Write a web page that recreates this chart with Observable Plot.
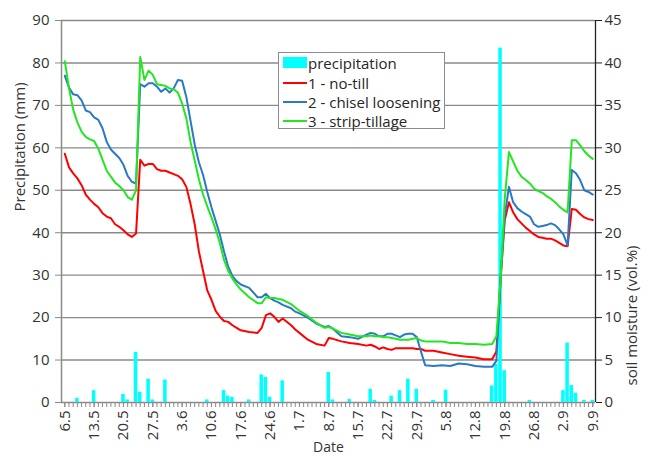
<!DOCTYPE html>
<html><head><meta charset="utf-8">
<script src="https://cdn.jsdelivr.net/npm/d3@7"></script>
<script src="https://cdn.jsdelivr.net/npm/@observablehq/plot@0.6"></script>
<style>
body{margin:0;background:#fff;}
#wrap{position:relative;width:650px;height:456px;font-family:"Open Sans",sans-serif;overflow:hidden;}
#legend{position:absolute;left:278px;top:52px;width:167px;height:77px;border:1px solid #8c8c8c;background:#fff;box-sizing:border-box;font-size:15px;color:#262626;}
.row{position:absolute;left:4px;height:20px;line-height:20px;white-space:nowrap;}
.sw{position:absolute;left:0;width:24px;}
.lab{position:absolute;left:25px;top:0;}
</style></head><body><div id="wrap"></div><script>
// tick labels of the date axis (day.month)
const tickLabels = ["6.5","13.5","20.5","27.5","3.6","10.6","17.6","24.6","1.7","8.7","15.7","22.7","29.7","5.8","12.8","19.8","26.8","2.9","9.9"];

// soil-moisture sampling dates (day.month)
const moistureDates = [
  "6.5","7.5","8.5","9.5","10.5","11.5","12.5","13.5","14.5","15.5","16.5","17.5","18.5","19.5","20.5","21.5","22.5","23.5","24.5","25.5","26.5","27.5","28.5","29.5","30.5","31.5",
  "1.6","2.6","3.6","4.6","5.6","6.6","7.6","8.6","9.6","10.6","11.6","12.6","13.6","14.6","15.6","16.6","17.6","19.6","21.6","22.6","23.6","24.6","25.6","26.6","27.6","29.6","30.6",
  "1.7","3.7","5.7","7.7","8.7","9.7","11.7","13.7","15.7","17.7","18.7","19.7","20.7","21.7","22.7","23.7","24.7","25.7","26.7","27.7","28.7","29.7","30.7","31.7",
  "2.8","4.8","6.8","8.8","10.8","12.8","14.8","16.8","17.8","18.8","19.8","20.8","21.8","22.8","23.8","24.8","25.8","26.8","27.8","28.8","29.8","30.8","31.8",
  "1.9","2.9","3.9","4.9","5.9","6.9","7.9","8.9","9.9"
];
// soil moisture (vol.%)
const noTill = [
  29.3,27.7,27.0,26.4,25.6,24.5,23.9,23.4,23.0,22.3,21.9,21.7,21.0,20.7,20.3,19.8,19.5,19.9,28.6,27.9,28.1,28.1,27.5,27.3,27.3,27.1,
  26.9,26.7,26.3,25.4,23.4,21.0,17.8,15.5,13.2,12.1,10.8,10.1,9.6,9.5,9.1,8.8,8.5,8.3,8.2,8.8,10.3,10.5,10.1,9.5,9.9,9.1,8.6,
  8.2,7.4,6.9,6.7,7.6,7.5,7.2,7.0,6.9,6.7,6.8,6.6,6.3,6.5,6.3,6.2,6.4,6.4,6.4,6.4,6.4,6.3,6.3,6.1,
  6.1,5.9,5.7,5.5,5.4,5.3,5.1,5.1,6.0,14.5,21.5,23.6,22.4,21.6,21.1,20.6,20.2,19.8,19.5,19.4,19.3,19.3,19.1,
  18.8,18.5,18.4,22.8,22.7,22.2,21.8,21.6,21.5
];
const chiselLoosening = [
  38.5,37.1,36.3,36.2,35.6,34.4,34.2,33.6,33.3,32.3,30.7,29.8,29.3,28.8,28.0,26.7,26.0,25.8,37.5,37.2,37.6,37.6,37.2,36.6,37.0,36.5,
  37.0,38.0,37.9,36.0,33.2,30.4,28.3,26.8,24.8,23.0,21.4,19.8,17.8,16.0,14.9,14.3,13.9,13.5,12.4,12.4,12.8,12.3,12.0,11.8,11.5,11.1,10.7,
  10.5,10.0,9.3,8.9,9.0,8.7,7.8,7.7,7.5,8.0,8.2,8.1,7.8,7.8,8.1,8.1,7.9,7.7,8.0,8.1,8.1,7.7,6.0,4.4,
  4.3,4.4,4.3,4.6,4.5,4.3,4.2,4.2,4.9,14.5,22.0,25.4,23.6,22.9,22.5,22.2,21.9,21.0,20.7,20.8,20.9,21.1,20.9,
  20.4,19.8,18.5,27.4,27.0,26.2,25.0,24.8,24.5
];
const stripTillage = [
  40.2,37.0,34.5,33.0,31.9,31.3,31.0,30.8,29.9,28.6,27.3,26.6,25.9,25.5,25.0,24.2,23.9,25.0,40.7,38.0,39.1,38.6,37.5,37.4,37.3,37.0,
  36.9,36.5,35.2,33.5,30.7,28.5,26.3,24.5,23.1,21.8,20.4,18.8,16.8,15.5,14.6,13.9,13.3,12.4,11.7,11.7,12.4,12.3,12.3,12.2,12.1,11.6,11.2,
  10.8,10.2,9.4,8.8,8.9,8.7,8.2,8.0,7.8,7.8,7.9,7.8,7.8,7.7,7.7,7.6,7.5,7.4,7.4,7.4,7.5,7.6,7.3,7.2,
  7.2,7.2,7.0,7.0,6.9,6.9,6.8,6.9,7.8,14.5,24.0,29.5,28.4,27.3,26.6,26.2,25.8,25.2,24.9,24.7,24.3,24.0,23.6,
  23.1,22.7,22.4,30.9,30.9,30.3,29.6,29.1,28.7
];
// precipitation (mm)
const precipDates = ["9.5","13.5","20.5","21.5","23.5","24.5","26.5","27.5","30.5","9.6","13.6","14.6","15.6","19.6","22.6","23.6","24.6","27.6",
  "8.7","9.7","13.7","18.7","19.7","23.7","25.7","27.7","29.7","2.8","5.8","16.8","17.8","18.8","19.8","25.8","2.9","3.9","4.9","5.9","7.9","9.9"];
const precipMm = [1.0,2.8,1.9,0.6,11.8,2.4,5.5,0.6,5.3,0.6,2.8,1.5,1.2,0.6,6.5,5.9,1.2,5.1,
  7.1,0.6,0.7,3.1,0.5,1.5,2.8,5.5,3.1,0.5,2.9,3.9,9.0,83.5,7.5,0.5,2.8,14.0,4.0,2.2,0.5,0.5];

const seriesNames = ["1 - no-till","2 - chisel loosening","3 - strip-tillage"];
const seriesColors = ["#ff0000","#2a78c8","#22e622"];
const precipColor = "#00ffff";

function dayIndex(s){const [d,m]=s.split(".").map(Number);return (Date.UTC(2015,m-1,d)-Date.UTC(2015,4,6))/864e5;}

const precip = precipDates.map((s,i)=>({t:dayIndex(s), mm:precipMm[i]}));
const seriesValues = [noTill, chiselLoosening, stripTillage];
const lines = seriesValues.map(vals => moistureDates.map((s,i)=>({t:dayIndex(s), v:vals[i]})));
const xDomain = [-0.79, 126.66];
const labelMap = new Map(tickLabels.map(s=>[dayIndex(s), s]));

const chart = Plot.plot({
  width:650, height:456, marginLeft:61, marginRight:55, marginTop:20, marginBottom:54,
  style:{fontFamily:'"Open Sans",sans-serif', fontSize:"15px", color:"#333", background:"white"},
  x:{domain:xDomain}, y:{domain:[0,90]},
  marks:[
    Plot.gridY({ticks:d3.range(0,91,10), stroke:"#8a8a8a", strokeOpacity:1, strokeWidth:1.4}),
    Plot.rectY(precip, {x1:d=>d.t-0.42, x2:d=>d.t+0.42, y1:0, y2:"mm", fill:precipColor}),
    ...lines.map((data,k)=>Plot.lineY(data, {x:"t", y:d=>d.v*2, stroke:seriesColors[k], strokeWidth:2})),
    Plot.ruleX([xDomain[0]], {stroke:"#8a8a8a", strokeWidth:1.5}),
    Plot.ruleX([xDomain[1]], {stroke:"#222", strokeWidth:1.3}),
    Plot.axisY({anchor:"left", ticks:d3.range(0,91,10), tickSize:6, tickPadding:6, label:null, stroke:"#8a8a8a"}),
    Plot.axisY({anchor:"right", ticks:d3.range(0,91,10), tickFormat:d=>d/2, tickSize:6, tickPadding:3, label:null, stroke:"#222"}),
    Plot.axisX({ticks:d3.range(0,127), tickSize:5, tickFormat:()=>"", label:null, stroke:"#8a8a8a"}),
    Plot.axisX({ticks:tickLabels.map(dayIndex), tickFormat:d=>labelMap.get(d), tickRotate:-90, tickSize:5, tickPadding:3, label:null, stroke:"#8a8a8a"}),
    Plot.text(["Precipitation (mm)"], {frameAnchor:"left", rotate:-90, dx:-41, fill:"#333"}),
    Plot.text(["soil moisture (vol.%)"], {frameAnchor:"bottom-right", rotate:-90, textAnchor:"start", dx:41, dy:-17, fill:"#333"}),
    Plot.text(["Date"], {frameAnchor:"bottom", lineAnchor:"top", dy:40, fontSize:14, fill:"#333"})
  ]
});
const wrap = document.getElementById("wrap");
wrap.appendChild(chart);

// legend
const lg = document.createElement("div"); lg.id = "legend";
const rowTops = [0,20,39,58];
const entries = [{name:"precipitation", color:precipColor, rect:true}].concat(seriesNames.map((n,k)=>({name:n, color:seriesColors[k]})));
entries.forEach((e,i)=>{
  const r = document.createElement("div"); r.className="row"; r.style.top=(rowTops[i]+0)+"px";
  const sw = document.createElement("div"); sw.className="sw";
  if(e.rect){sw.style.top="4px"; sw.style.height="11px"; sw.style.background=e.color;}
  else {sw.style.top="9px"; sw.style.height="2px"; sw.style.background=e.color;}
  const t = document.createElement("span"); t.className="lab"; t.textContent=e.name;
  r.appendChild(sw); r.appendChild(t); lg.appendChild(r);
});
wrap.appendChild(lg);
</script></body></html>
